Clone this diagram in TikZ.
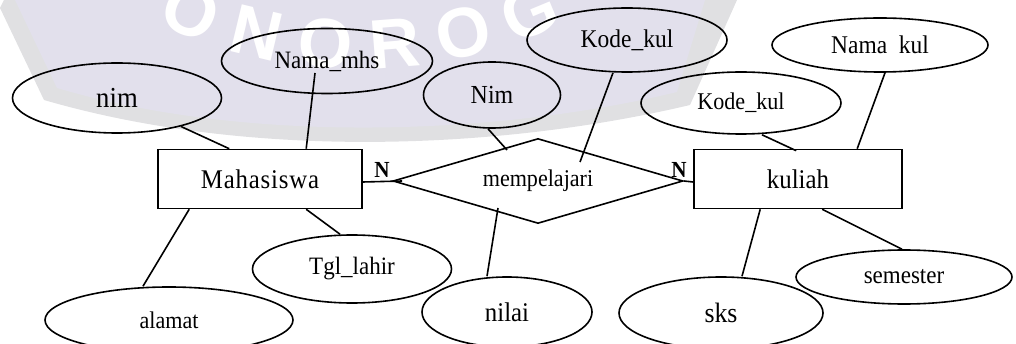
\documentclass[tikz,border=0pt]{standalone}
\usepackage{fontspec}
\setmainfont{Liberation Serif}[FakeStretch=0.92]
\newfontfamily\wmfont{Liberation Sans}
\usetikzlibrary{shapes.geometric,calc}
\definecolor{wmlav}{RGB}{226,224,236}
\definecolor{wmgray}{RGB}{224,224,226}
\newcommand\fsz[1]{\fontsize{#1}{#1}\selectfont}
\begin{document}
\begin{tikzpicture}[x=1pt,y=-1pt,
  ln/.style={line width=1.6pt},
  attr/.style={ellipse, draw, line width=1.6pt, inner sep=0pt},
  ent/.style={rectangle, draw, line width=1.6pt, inner sep=0pt, minimum height=59pt},
  rel/.style={diamond, draw, line width=1.6pt, inner sep=0pt, shape aspect=3.4},
  card/.style={inner sep=0pt, font=\fsz{23}\bfseries},
  wm/.style={inner sep=0pt, text=white, font=\wmfont\bfseries\fsz{70}}]
\useasboundingbox (0,0) rectangle (1016,344);
% watermark
\fill[wmgray] (4,0) -- (0,8) -- (44,100) .. controls (250,160) and (500,150) .. (690,105) -- (737,0) -- cycle;
\fill[wmlav] (15,0) -- (57,88) .. controls (250,145) and (500,135) .. (677,92) -- (705,0) -- cycle;
\foreach \t/\a [count=\i] in {O/-22.5, N/-13.5, O/-4.5, R/4.5, O/13.5, G/22.5}
  \node[wm, rotate=\a] (wm\i) at ({360+442*sin(\a)}, {-397+442*cos(\a)}) {\t};
% entities and relation
\node[ent, minimum width=204pt, font=\fsz{27}\addfontfeature{LetterSpace=3}] (maha) at (260,179) {Mahasiswa};
\node[ent, minimum width=208pt, font=\fsz{27}] (kul) at (798,179) {kuliah};
\node[rel, minimum width=290pt, minimum height=85pt, font=\fsz{24}] (rel) at (538,181) {mempelajari};
% attributes
\node[attr, minimum width=209pt, minimum height=70pt, font=\fsz{29}] (nim) at (117,98) {nim};
\node[attr, minimum width=211pt, minimum height=65pt, font=\fsz{25}] (namamhs) at (327,61) {Nama\_mhs};
\node[attr, minimum width=137pt, minimum height=66pt, font=\fsz{26}] (Nim) at (492,95) {Nim};
\node[attr, minimum width=200pt, minimum height=64pt, font=\fsz{25.5}] (kk1) at (627,40) {Kode\_kul};
\node[attr, minimum width=200pt, minimum height=62pt, font=\fsz{24}] (kk2) at (741,103) {Kode\_kul};
\node[attr, minimum width=216pt, minimum height=54pt, font=\fsz{25.5}] (nk) at (880,45) {Nama\ \ kul};
\node[attr, minimum width=248pt, minimum height=66pt, font=\fsz{24}] (alamat) at (169,320) {alamat};
\node[attr, minimum width=199pt, minimum height=68pt, font=\fsz{25}] (tgl) at (352,269) {Tgl\_lahir};
\node[attr, minimum width=170pt, minimum height=70pt, font=\fsz{27}] (nilai) at (507,312) {nilai};
\node[attr, minimum width=204pt, minimum height=72pt, font=\fsz{28}] (sks) at (721,313) {sks};
\node[attr, minimum width=216pt, minimum height=54pt, font=\fsz{25}] (sem) at (904,277) {semester};
% cardinalities
\node[card] (n1) at (382,170) {N};
\node[card] (n2) at (679,170) {N};
% connectors
\draw[ln] (nim.-24) -- ([xshift=72pt]maha.north west);
\draw[ln] ([xshift=-12pt,yshift=-12pt]namamhs.center) -- ([xshift=149pt]maha.north west);
\draw[ln] ([xshift=32pt]maha.south west) -- ([xshift=-26pt]alamat.north);
\draw[ln] ([xshift=149pt]maha.south west) -- ([xshift=-12pt]tgl.north);
\draw[ln] ([yshift=-3pt]maha.east) -- ([xshift=10pt]rel.west);
\draw[ln] (rel.east) -- ([yshift=-3pt]kul.west);
\draw[ln] ([xshift=-4pt]Nim.south) -- ([xshift=-31pt,yshift=31pt]rel.center);
\draw[ln] ([xshift=-14pt]kk1.south) -- ([xshift=42pt,yshift=19pt]rel.center);
\draw[ln] ([xshift=-20pt]nilai.north) -- ([xshift=-40pt,yshift=-27pt]rel.center);
\draw[ln] ([xshift=21pt]kk2.south) -- ([xshift=103pt,yshift=-2pt]kul.north west);
\draw[ln] ([xshift=5pt]nk.south) -- ([xshift=164pt]kul.north west);
\draw[ln] ([xshift=67pt]kul.south west) -- ([xshift=21pt]sks.north);
\draw[ln] ([xshift=129pt]kul.south west) -- ([xshift=-2pt]sem.north);
\end{tikzpicture}
\end{document}
